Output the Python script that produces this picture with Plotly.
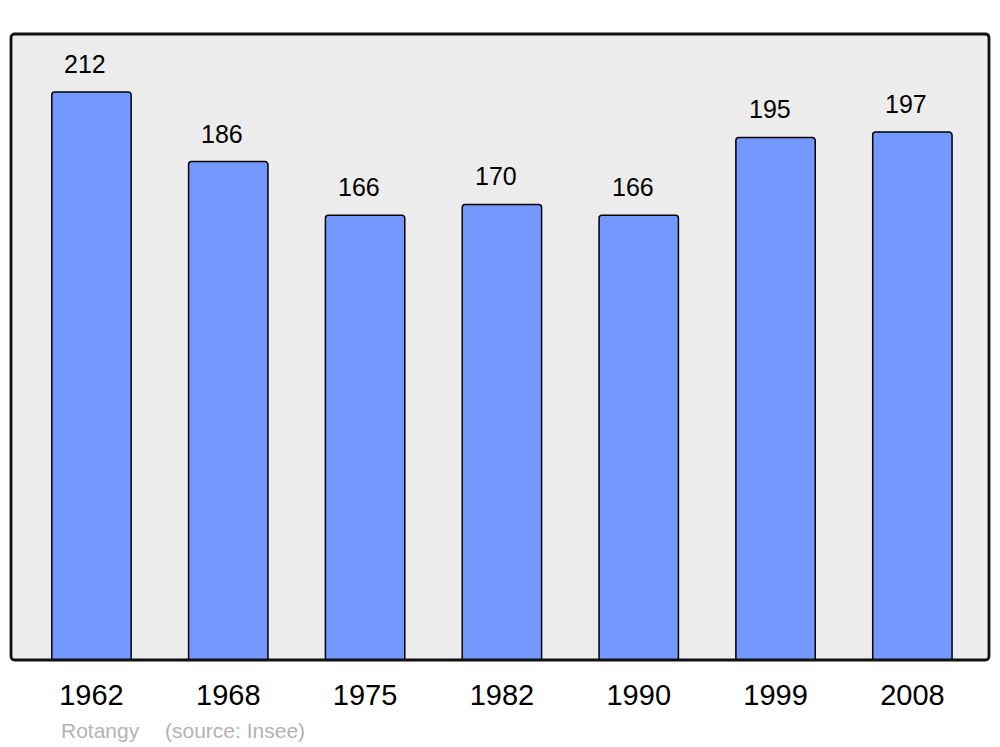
import plotly.graph_objects as go

years = ["1962", "1968", "1975", "1982", "1990", "1999", "2008"]
population = [212, 186, 166, 170, 166, 195, 197]
commune = "Rotangy"
source = "(source: Insee)"

W, H = 1000, 747
OFF = 8  # page body margin
PX0, PY0, PX1, PY1 = 11, 34, 989, 660  # plot area in screenshot pixels
pw, ph = PX1 - PX0, PY1 - PY0
L, T = PX0 - OFF, PY0 - OFF
R, B = W - L - pw, H - T - ph

xpos = list(range(len(years)))

fig = go.Figure()
fig.add_trace(go.Bar(
    x=xpos, y=population, width=0.58,
    marker=dict(color="#7399ff", line=dict(color="#000000", width=1.5), cornerradius=3),
    hoverinfo="skip",
))

for i, v in enumerate(population):
    fig.add_annotation(x=i, y=v, text=str(v), showarrow=False,
                       xanchor="center", yanchor="middle", yshift=28, xshift=-6,
                       font=dict(family="Liberation Sans", size=25, color="#000000"))

# rounded frame in paper coords
rx, ry = 4 / pw, 4 / ph
path = (f"M {rx},0 L {1-rx},0 Q 1,0 1,{ry} L 1,{1-ry} Q 1,1 {1-rx},1 "
        f"L {rx},1 Q 0,1 0,{1-ry} L 0,{ry} Q 0,0 {rx},0 Z")
fig.add_shape(type="path", path=path, xref="paper", yref="paper",
              line=dict(color="#111111", width=2.8), layer="above")

fig.add_annotation(x=(59 - PX0) / pw, y=(PY1 - 730) / ph, xref="paper", yref="paper",
                   text=commune, showarrow=False, xanchor="left", yanchor="middle",
                   font=dict(family="Liberation Sans", size=21, color="#b3b3b3"))
fig.add_annotation(x=(163 - PX0) / pw, y=(PY1 - 730) / ph, xref="paper", yref="paper",
                   text=source, showarrow=False, xanchor="left", yanchor="middle",
                   font=dict(family="Liberation Sans", size=21, color="#b3b3b3"))

fig.update_layout(
    width=W, height=H,
    margin=dict(l=L, r=R, t=T, b=B, pad=0),
    paper_bgcolor="#ffffff", plot_bgcolor="#ececec",
    showlegend=False,
    xaxis=dict(range=[-0.588, 6.56], tickvals=xpos, ticktext=years,
               showgrid=False, zeroline=False, showline=False,
               ticks="", ticklabelstandoff=15,
               tickfont=dict(family="Liberation Sans", size=29, color="#000000"),
               fixedrange=True),
    yaxis=dict(range=[0, 233.6], showgrid=False, zeroline=False, showline=False,
               showticklabels=False, ticks="", fixedrange=True),
)

fig.write_html("out.html")
